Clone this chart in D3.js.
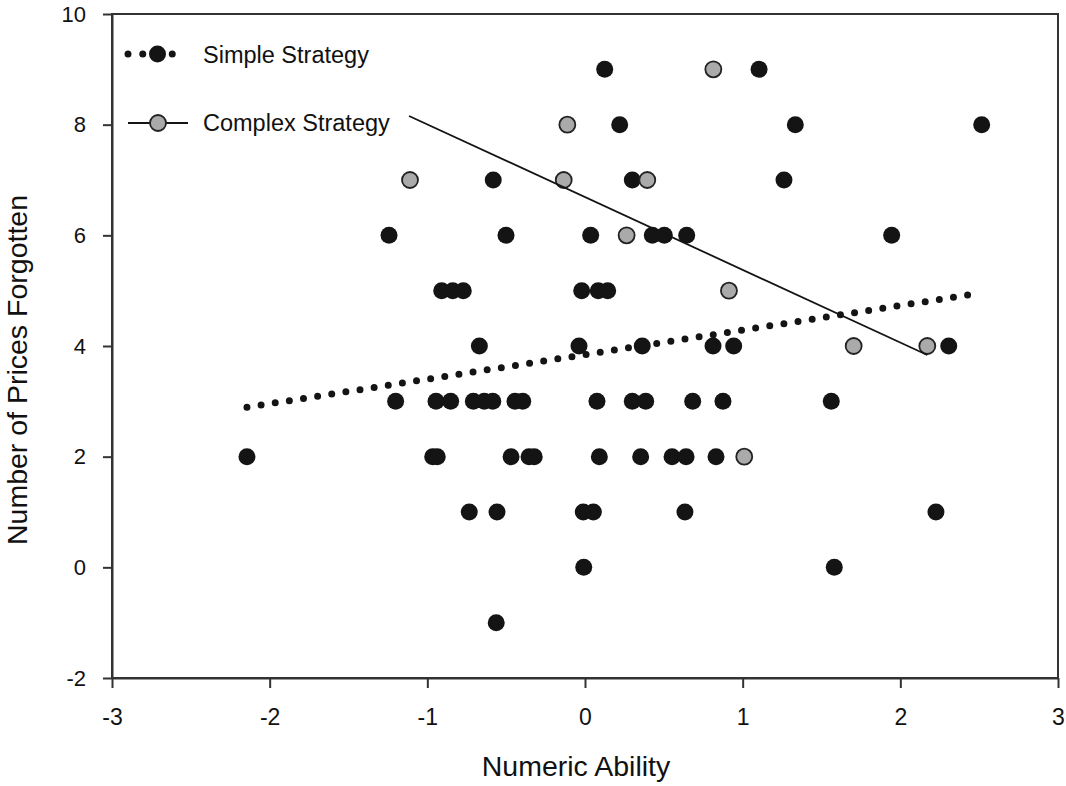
<!DOCTYPE html>
<html>
<head>
<meta charset="utf-8">
<script src="https://cdn.jsdelivr.net/npm/d3@7"></script>
<style>
  body { margin: 0; background: #fff; }
  #chart text { font-family: "Liberation Sans", Arial, sans-serif; fill: #111; }
</style>
</head>
<body>
<div id="chart"></div>
<script>
// values
var simpleX = [0.125, 1.104,
               0.220, 1.334, 2.516,
               -0.582, 0.300, 1.262,
               -1.243, -0.501, 0.036, 0.427, 0.503, 0.645, 1.945,
               -0.909, -0.839, -0.772, -0.021, 0.084, 0.144,
               -0.670, -0.038, 0.363, 0.812, 0.943, 2.307,
               -1.201, -0.945, -0.852, -0.708, -0.639, -0.585, -0.444, -0.395, 0.076, 0.300, 0.385, 0.683, 0.875, 1.562,
               -2.144, -0.966, -0.937, -0.469, -0.355, -0.322, 0.091, 0.353, 0.552, 0.641, 0.831,
               -0.734, -0.558, -0.011, 0.053, 0.634, 2.226,
               -0.008, 1.581,
               -0.563];
var simpleY = [9, 9,
               8, 8, 8,
               7, 7, 7,
               6, 6, 6, 6, 6, 6, 6,
               5, 5, 5, 5, 5, 5,
               4, 4, 4, 4, 4, 4,
               3, 3, 3, 3, 3, 3, 3, 3, 3, 3, 3, 3, 3, 3,
               2, 2, 2, 2, 2, 2, 2, 2, 2, 2, 2,
               1, 1, 1, 1, 1, 1,
               0, 0,
               -1];
var complexX = [0.814, -0.112, -1.110, -0.135, 0.395, 0.264, 0.913, 1.704, 2.171, 1.010];
var complexY = [9, 8, 7, 7, 7, 6, 5, 4, 4, 2];

var simpleFitX = [-2.144, 2.516];
var simpleFitY = [2.893, 4.96];
var complexFitX = [-1.116, 2.171];
var complexFitY = [8.157, 3.838];

var xTicks = [-3, -2, -1, 0, 1, 2, 3];
var yTicks = [-2, 0, 2, 4, 6, 8, 10];
var seriesNames = ["Simple Strategy", "Complex Strategy"];

var W = 1066, H = 786;
var plot = {left: 112, right: 1058, top: 14, bottom: 678};
var dotR = 8.5;

var svg = d3.select("#chart").append("svg")
            .attr("width", W)
            .attr("height", H);

var x = d3.scaleLinear().domain([-3, 3]).range([plot.left, plot.right]);
var y = d3.scaleLinear().domain([-2, 10]).range([plot.bottom, plot.top]);

function zip(xs, ys){
	return xs.map(function(v, i){ return {x: v, y: ys[i]}; });
}
// plain hyphen minus, like the original
function plain(d){ return String(d); }

// frame
svg.append("rect")
   .attr("x", plot.left)
   .attr("y", plot.top)
   .attr("width", plot.right - plot.left)
   .attr("height", plot.bottom - plot.top)
   .style("fill", "none")
   .style("stroke", "#333")
   .style("stroke-width", 2);

// axes
var xAxis = svg.append("g")
               .attr("transform", "translate(0," + plot.bottom + ")")
               .call(d3.axisBottom(x).tickValues(xTicks).tickFormat(plain).tickSize(10).tickSizeOuter(0).tickPadding(21));
var yAxis = svg.append("g")
               .attr("transform", "translate(" + plot.left + ",0)")
               .call(d3.axisLeft(y).tickValues(yTicks).tickFormat(plain).tickSize(9).tickSizeOuter(0).tickPadding(17));

[xAxis, yAxis].forEach(function(ax){
	ax.select(".domain").style("stroke", "#333").style("stroke-width", 2);
	ax.selectAll(".tick line").style("stroke", "#333").style("stroke-width", 2);
	ax.selectAll(".tick text").style("font-size", "22px").style("font-family", "'Liberation Sans', Arial, sans-serif").style("fill", "#111");
});
xAxis.selectAll(".tick text").style("font-size", "23px");

// axis titles
svg.append("text")
   .attr("x", 576)
   .attr("y", 776)
   .attr("text-anchor", "middle")
   .style("font-size", "28.5px")
   .text("Numeric Ability");

svg.append("text")
   .attr("transform", "translate(27,370) rotate(-90)")
   .attr("text-anchor", "middle")
   .style("font-size", "28.5px")
   .text("Number of Prices Forgotten");

// points
svg.append("g").selectAll("circle")
   .data(zip(simpleX, simpleY))
   .enter()
   .append("circle")
   .attr("cx", function(d){ return x(d.x); })
   .attr("cy", function(d){ return y(d.y); })
   .attr("r", dotR)
   .style("fill", "#141414");

svg.append("g").selectAll("circle")
   .data(zip(complexX, complexY))
   .enter()
   .append("circle")
   .attr("cx", function(d){ return x(d.x); })
   .attr("cy", function(d){ return y(d.y); })
   .attr("r", dotR - 0.5)
   .style("fill", "#aaaaaa")
   .style("stroke", "#222")
   .style("stroke-width", 1.8);

// fit lines
var line = d3.line().x(function(d){ return x(d.x); }).y(function(d){ return y(d.y); });

svg.append("path")
   .datum(zip(simpleFitX, simpleFitY))
   .attr("d", line)
   .style("fill", "none")
   .style("stroke", "#141414")
   .style("stroke-width", 7)
   .style("stroke-linecap", "round")
   .style("stroke-dasharray", "0,14.3");

svg.append("path")
   .datum(zip(complexFitX, complexFitY))
   .attr("d", line)
   .style("fill", "none")
   .style("stroke", "#141414")
   .style("stroke-width", 1.8);

// legend
var legend = svg.append("g");

legend.append("line")
      .attr("x1", 128).attr("x2", 187)
      .attr("y1", 54).attr("y2", 54)
      .style("stroke", "#141414")
      .style("stroke-width", 7)
      .style("stroke-linecap", "round")
      .style("stroke-dasharray", "0,14.75");
legend.append("circle")
      .attr("cx", 157.5).attr("cy", 54).attr("r", dotR)
      .style("fill", "#141414");
legend.append("text")
      .attr("x", 203).attr("y", 63)
      .style("font-size", "23.5px")
      .text(seriesNames[0]);

legend.append("line")
      .attr("x1", 128).attr("x2", 188)
      .attr("y1", 123).attr("y2", 123)
      .style("stroke", "#141414")
      .style("stroke-width", 1.8);
legend.append("circle")
      .attr("cx", 158).attr("cy", 123).attr("r", dotR - 0.5)
      .style("fill", "#aaaaaa")
      .style("stroke", "#222")
      .style("stroke-width", 1.8);
legend.append("text")
      .attr("x", 203).attr("y", 131)
      .style("font-size", "23.5px")
      .text(seriesNames[1]);
</script>
</body>
</html>
